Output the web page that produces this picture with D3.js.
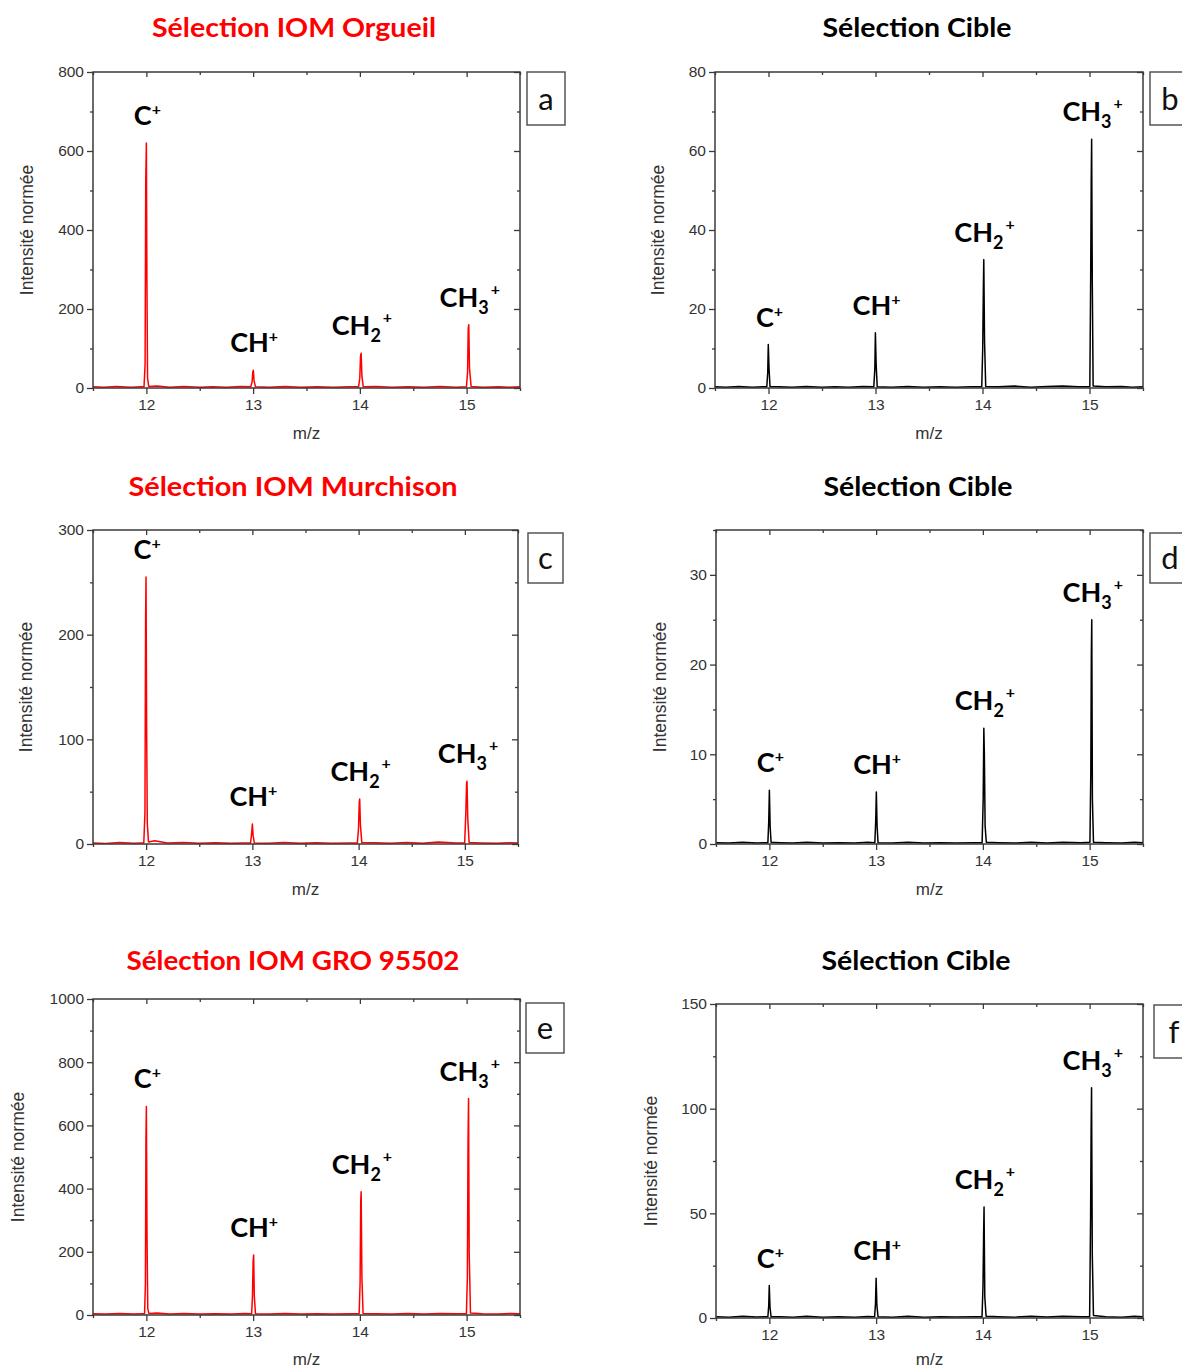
<!DOCTYPE html>
<html><head><meta charset="utf-8">
<script src="https://cdn.jsdelivr.net/npm/d3@7"></script>
<style>body{margin:0;background:#fff} svg{display:block}</style>
</head><body>
<svg id="chart" width="1182" height="1371"></svg>
<script>
// ---------------- DATA ----------------
const titles = ["Sélection IOM Orgueil", "Sélection Cible", "Sélection IOM Murchison", "Sélection Cible", "Sélection IOM GRO 95502", "Sélection Cible"];
const panelLetters = ["a", "b", "c", "d", "e", "f"];
const ionNames = ["C+", "CH+", "CH2+", "CH3+"];
const peakMz = [12.0, 13.0, 14.01, 15.02];
const xTickValues = [12, 13, 14, 15];
const xMinorValues = [11.5, 12.5, 13.5, 14.5, 15.5];
const yAxisLabel = "Intensité normée";
const xAxisLabel = "m/z";

const peaksA = [620, 45, 88, 160];
const peaksB = [11, 14, 32.5, 63];
const peaksC = [255, 19, 43, 60];
const peaksD = [6, 5.8, 12.9, 25];
const peaksE = [660, 190, 390, 685];
const peaksF = [15.5, 19, 53, 110];

const yTicksA = [0, 200, 400, 600, 800];      const yMinorA = [100, 300, 500, 700];
const yTicksB = [0, 20, 40, 60, 80];          const yMinorB = [10, 30, 50, 70];
const yTicksC = [0, 100, 200, 300];           const yMinorC = [50, 150, 250];
const yTicksD = [0, 10, 20, 30];              const yMinorD = [5, 15, 25, 35];
const yTicksE = [0, 200, 400, 600, 800, 1000];const yMinorE = [100, 300, 500, 700, 900];
const yTicksF = [0, 50, 100, 150];            const yMinorF = [25, 75, 125];

// spectra: [m/z, intensity]
const spectrumA = [
 [11.50,3],[11.60,2],[11.72,4],[11.85,2],[11.95,3],
 [11.978,3],[11.988,60],[11.994,520],[12.000,620],[12.005,280],[12.011,25],[12.022,4],
 [12.10,5],[12.22,2],[12.35,4],[12.50,2],[12.62,3],[12.75,2],[12.88,4],
 [12.978,3],[12.990,15],[12.997,40],[13.002,45],[13.009,18],[13.022,3],
 [13.15,2],[13.30,4],[13.45,2],[13.60,3],[13.75,2],[13.90,3],
 [13.988,3],[13.999,25],[14.006,80],[14.012,88],[14.019,30],[14.032,3],
 [14.15,4],[14.30,2],[14.45,3],[14.60,2],[14.75,4],[14.90,2],
 [14.998,3],[15.009,40],[15.015,150],[15.020,160],[15.027,50],[15.042,4],
 [15.15,2],[15.30,3],[15.40,2],[15.50,3]
];
const spectrumB = [
 [11.50,0.3],[11.60,0.2],[11.72,0.4],[11.85,0.2],[11.95,0.3],
 [11.984,0.3],[11.993,4],[11.998,11],[12.005,5],[12.014,0.4],
 [12.10,0.3],[12.22,0.2],[12.35,0.4],[12.50,0.2],[12.62,0.3],[12.75,0.2],[12.88,0.4],
 [12.984,0.3],[12.994,5],[12.999,14],[13.006,6],[13.016,0.3],
 [13.15,0.2],[13.30,0.4],[13.45,0.2],[13.60,0.3],[13.75,0.2],[13.90,0.3],
 [13.993,0.3],[14.002,10],[14.008,25],[14.012,32.5],[14.019,12],[14.030,0.4],
 [14.15,0.3],[14.30,0.5],[14.45,0.2],[14.60,0.4],[14.75,0.5],[14.90,0.3],
 [15.003,0.3],[15.011,28],[15.016,52],[15.020,63],[15.026,27],[15.034,0.5],
 [15.15,0.3],[15.30,0.4],[15.40,0.2],[15.50,0.3]
];
const spectrumC = [
 [11.50,1],[11.62,0.5],[11.75,1.5],[11.88,0.8],[11.96,1],
 [11.978,1],[11.989,30],[11.995,215],[11.999,255],[12.005,110],[12.011,20],[12.022,2],
 [12.08,3],[12.20,1],[12.35,1.5],[12.50,0.8],[12.65,1.2],[12.80,0.6],[12.92,1],
 [12.983,1],[12.993,10],[13.000,19],[13.007,8],[13.018,1],
 [13.15,0.8],[13.30,1.5],[13.45,0.6],[13.60,1.2],[13.75,0.8],[13.92,1],
 [13.988,1],[13.999,15],[14.006,40],[14.010,43],[14.017,18],[14.030,1.5],
 [14.15,1.2],[14.30,0.8],[14.45,1.5],[14.60,0.6],[14.75,1.8],[14.92,1],
 [14.998,1],[15.009,30],[15.016,58],[15.020,60],[15.027,25],[15.040,1.5],
 [15.15,1],[15.30,0.6],[15.42,1.2],[15.50,1]
];
const spectrumD = [
 [11.50,0.15],[11.62,0.1],[11.75,0.2],[11.88,0.1],[11.96,0.15],
 [11.986,0.15],[11.994,2.5],[12.000,6],[12.007,2],[12.016,0.2],
 [12.10,0.15],[12.22,0.1],[12.35,0.2],[12.50,0.1],[12.65,0.15],[12.80,0.1],[12.92,0.2],
 [12.988,0.15],[12.996,2.5],[13.002,5.8],[13.009,2],[13.018,0.15],
 [13.15,0.1],[13.30,0.2],[13.45,0.1],[13.60,0.15],[13.75,0.1],[13.92,0.15],
 [13.993,0.15],[14.003,5],[14.009,12.9],[14.014,10],[14.021,2],[14.032,0.2],
 [14.15,0.15],[14.30,0.1],[14.45,0.2],[14.60,0.1],[14.75,0.2],[14.92,0.15],
 [15.003,0.2],[15.011,8],[15.016,21],[15.020,25],[15.026,5],[15.036,0.2],
 [15.15,0.15],[15.30,0.1],[15.42,0.2],[15.50,0.15]
];
const spectrumE = [
 [11.50,4],[11.62,3],[11.75,5],[11.88,3],[11.96,4],
 [11.983,4],[11.991,100],[11.996,560],[12.000,660],[12.006,250],[12.013,20],[12.024,5],
 [12.10,6],[12.22,3],[12.35,5],[12.50,3],[12.65,4],[12.80,3],[12.92,5],
 [12.986,4],[12.994,60],[13.000,170],[13.005,190],[13.011,60],[13.022,4],
 [13.15,3],[13.30,5],[13.45,3],[13.60,4],[13.75,3],[13.92,4],
 [13.993,4],[14.002,100],[14.008,360],[14.012,390],[14.019,120],[14.030,5],
 [14.15,4],[14.30,3],[14.45,5],[14.60,3],[14.75,5],[14.92,4],
 [14.998,4],[15.007,120],[15.013,540],[15.018,685],[15.024,200],[15.036,6],
 [15.15,4],[15.30,3],[15.42,5],[15.50,4]
];
const spectrumF = [
 [11.50,0.6],[11.62,0.4],[11.75,0.8],[11.88,0.5],[11.96,0.6],
 [11.986,0.6],[11.994,6],[11.999,15.5],[12.006,5],[12.016,0.6],
 [12.10,0.6],[12.22,0.4],[12.35,0.8],[12.50,0.4],[12.65,0.6],[12.80,0.4],[12.92,0.7],
 [12.986,0.6],[12.994,7],[13.000,19],[13.007,6],[13.018,0.6],
 [13.15,0.4],[13.30,0.8],[13.45,0.4],[13.60,0.6],[13.75,0.5],[13.92,0.6],
 [13.992,0.6],[14.001,15],[14.007,40],[14.011,53],[14.018,10],[14.030,0.8],
 [14.15,0.6],[14.30,0.4],[14.45,0.8],[14.60,0.5],[14.75,0.8],[14.92,0.6],
 [15.000,0.6],[15.009,48],[15.014,90],[15.018,110],[15.025,30],[15.036,1.2],
 [15.15,0.6],[15.30,0.4],[15.42,0.8],[15.50,0.6]
];

// ---------------- LAYOUT ----------------
const RED = "#ff0000", BLACK = "#000000";
const panels = [
 {letter:0, title:0, tcol:RED,   col:RED,   data:spectrumA, peaks:peaksA, ymax:800,  yt:yTicksA, ym:yMinorA, L:93,  R:520,  T:72,   B:388,  box:[527,72,38,53],   tx:294, ty:37,  tl:284, ylx:27,  xly:439},
 {letter:1, title:1, tcol:BLACK, col:BLACK, data:spectrumB, peaks:peaksB, ymax:80,   yt:yTicksB, ym:yMinorB, L:715, R:1143, T:72,   B:388,  box:[1150,72,40,53],  tx:917, ty:37,  tl:189, ylx:658, xly:439},
 {letter:2, title:2, tcol:RED,   col:RED,   data:spectrumC, peaks:peaksC, ymax:300,  yt:yTicksC, ym:yMinorC, L:93,  R:518,  T:530,  B:844,  box:[528,533,35,50],  tx:293, ty:496, tl:329, ylx:26,  xly:895},
 {letter:3, title:3, tcol:BLACK, col:BLACK, data:spectrumD, peaks:peaksD, ymax:35,   yt:yTicksD, ym:yMinorD, L:716, R:1143, T:530,  B:844,  box:[1150,533,40,50], tx:918, ty:496, tl:189, ylx:660, xly:895},
 {letter:4, title:4, tcol:RED,   col:RED,   data:spectrumE, peaks:peaksE, ymax:1000, yt:yTicksE, ym:yMinorE, L:93,  R:520,  T:999,  B:1315, box:[526,1003,38,50], tx:293, ty:970, tl:333, ylx:18,  xly:1365},
 {letter:5, title:5, tcol:BLACK, col:BLACK, data:spectrumF, peaks:peaksF, ymax:150,  yt:yTicksF, ym:yMinorF, L:716, R:1143, T:1004, B:1318, box:[1154,1005,40,53],tx:916, ty:970, tl:189, ylx:651, xly:1365}
];

const svg = d3.select("#chart");
const AX = "#3a3a3a";
const tickFont = "'Liberation Sans', Arial, sans-serif";
const labFont = "Lato, 'Open Sans', sans-serif";

panels.forEach((p, i) => {
  const x = d3.scaleLinear().domain([11.5, 15.5]).range([p.L, p.R]);
  const y = d3.scaleLinear().domain([0, p.ymax]).range([p.B, p.T]);
  const g = svg.append("g");

  const cid = "clip" + i;
  svg.append("clipPath").attr("id", cid).append("rect")
    .attr("x", p.L).attr("y", p.T).attr("width", p.R - p.L).attr("height", p.B - p.T);

  const line = d3.line().x(d => x(d[0])).y(d => y(d[1]));
  g.append("path").datum(p.data).attr("d", line)
    .attr("fill", "none").attr("stroke", p.col).attr("stroke-width", 1.5)
    .attr("stroke-linejoin", "round").attr("clip-path", `url(#${cid})`);

  const styleAxis = sel => {
    sel.select(".domain").remove();
    sel.selectAll("line").attr("stroke", AX).attr("stroke-width", 1.3);
    sel.selectAll("text").attr("font-family", tickFont).attr("font-size", 15.5).attr("fill", "#333");
  };
  g.append("g").attr("transform", `translate(${p.L},0)`)
    .call(d3.axisLeft(y).tickValues(p.yt).tickSize(6).tickPadding(3).tickFormat(d3.format("d"))).call(styleAxis);
  g.append("g").attr("transform", `translate(${p.L},0)`)
    .call(d3.axisLeft(y).tickValues(p.ym).tickSize(3).tickFormat("")).call(styleAxis);
  g.append("g").attr("transform", `translate(${p.R},0)`)
    .call(d3.axisRight(y).tickValues(p.yt).tickSize(-6).tickFormat("")).call(styleAxis);
  g.append("g").attr("transform", `translate(${p.R},0)`)
    .call(d3.axisRight(y).tickValues(p.ym).tickSize(-3).tickFormat("")).call(styleAxis);
  g.append("g").attr("transform", `translate(0,${p.B})`)
    .call(d3.axisBottom(x).tickValues(xTickValues).tickSize(6).tickPadding(5).tickFormat(d3.format("d"))).call(styleAxis);
  g.append("g").attr("transform", `translate(0,${p.B})`)
    .call(d3.axisBottom(x).tickValues(xMinorValues).tickSize(3).tickFormat("")).call(styleAxis);
  g.append("g").attr("transform", `translate(0,${p.T})`)
    .call(d3.axisTop(x).tickValues(xTickValues).tickSize(-5).tickFormat("")).call(styleAxis);
  g.append("g").attr("transform", `translate(0,${p.T})`)
    .call(d3.axisTop(x).tickValues(xMinorValues).tickSize(-3).tickFormat("")).call(styleAxis);

  g.append("rect").attr("x", p.L).attr("y", p.T).attr("width", p.R - p.L).attr("height", p.B - p.T)
    .attr("fill", "none").attr("stroke", AX).attr("stroke-width", 1.5);

  g.append("text").attr("transform", `translate(${p.ylx},${(p.T + p.B) / 2}) rotate(-90)`)
    .attr("text-anchor", "middle").attr("dy", "0.35em")
    .attr("font-family", tickFont).attr("font-size", 17.5).attr("fill", "#333").text(yAxisLabel);
  g.append("text").attr("x", (p.L + p.R) / 2).attr("y", p.xly)
    .attr("text-anchor", "middle").attr("font-family", tickFont).attr("font-size", 17).attr("fill", "#333").text(xAxisLabel);

  g.append("text").attr("x", p.tx).attr("y", p.ty).attr("text-anchor", "middle")
    .attr("font-family", labFont).attr("font-weight", "bold").attr("font-size", 27)
    .attr("fill", p.tcol).attr("textLength", p.tl).attr("lengthAdjust", "spacingAndGlyphs")
    .text(titles[p.title]);

  const [bx, by, bw, bh] = p.box;
  g.append("rect").attr("x", bx).attr("y", by).attr("width", bw).attr("height", bh)
    .attr("fill", "#fff").attr("stroke", "#555").attr("stroke-width", 1.5);
  g.append("text").attr("x", bx + bw / 2).attr("y", by + bh / 2).attr("dy", "0.36em")
    .attr("text-anchor", "middle").attr("font-family", labFont).attr("font-size", 31).attr("fill", "#111")
    .text(panelLetters[p.letter]);

  ionNames.forEach((name, k) => {
    const t = g.append("text").attr("x", x(peakMz[k]) + 1).attr("y", y(p.peaks[k]) - 18)
      .attr("text-anchor", "middle").attr("font-family", labFont).attr("font-weight", "bold")
      .attr("font-size", 27).attr("fill", "#000");
    if (name === "C+") {
      t.append("tspan").text("C");
      t.append("tspan").attr("font-size", 16).attr("dy", -10).text("+");
    } else if (name === "CH+") {
      t.append("tspan").text("CH");
      t.append("tspan").attr("font-size", 16).attr("dy", -10).text("+");
    } else {
      t.append("tspan").text("CH");
      t.append("tspan").attr("font-size", 18).attr("dy", 7).text(name.charAt(2));
      t.append("tspan").attr("font-size", 16).attr("dx", 2).attr("dy", -19).text("+");
    }
  });
});
</script></body></html>
